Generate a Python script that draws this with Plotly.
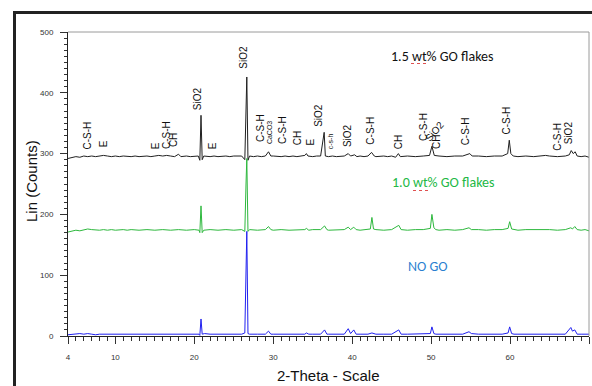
import plotly.graph_objects as go

# ---- data ----
theta_15 = [4.0, 4.5, 5.0, 5.5, 6.0, 6.5, 7.0, 7.5, 8.0, 8.5, 9.0, 9.5, 10.0, 10.5, 11.0, 11.5, 12.0, 12.5, 13.0, 14.0,
            14.5, 15.0, 15.5, 16.0, 16.5, 17.0, 17.5, 18.0, 18.3, 19.0, 19.5, 20.5, 20.7, 20.85, 21.0, 21.2, 22.0, 22.5,
            23.0, 24.0, 24.5, 25.0, 26.0, 26.4, 26.55, 26.65, 26.8, 27.0, 27.5, 28.0, 28.5, 29.0, 29.4, 29.7, 30.0,
            31.0, 31.5, 32.0, 32.5, 33.0, 34.0, 34.2, 34.4, 35.0, 35.5, 36.0, 36.45, 36.6, 37.0, 37.5, 38.0, 39.0,
            39.5, 39.8, 40.3, 40.6, 41.0, 41.5, 42.0, 42.45, 42.8, 43.0, 44.0, 44.5, 45.0, 45.5, 45.85, 46.1, 47.0,
            48.0, 49.0, 49.8, 50.1, 50.4, 51.0, 52.0, 53.0, 54.0, 54.9, 55.2, 56.0, 57.0, 58.0, 59.0, 59.7, 59.9, 60.1,
            60.4, 61.0, 62.0, 63.0, 64.0, 64.5, 65.0, 66.0, 67.0, 67.5, 67.75, 68.0, 68.25, 68.5, 69.0, 69.5, 70.0]
counts_15 = [292, 294, 295, 294, 296, 295, 296, 295, 296, 297, 296, 295, 296, 295, 296, 295, 295, 296, 295, 296,
             295, 296, 297, 296, 297, 296, 295, 299, 295, 296, 295, 296, 289, 363, 290, 296, 295, 296,
             295, 296, 295, 296, 296, 290, 360, 426, 289, 296, 295, 296, 295, 296, 303, 296, 296,
             295, 296, 295, 296, 295, 297, 300, 296, 295, 296, 296, 335, 296, 295, 296, 295, 296,
             300, 296, 298, 295, 296, 295, 296, 302, 296, 295, 296, 295, 296, 294, 300, 295, 296,
             295, 296, 297, 312, 297, 296, 295, 296, 296, 300, 296, 296, 295, 296, 296, 300, 322, 300,
             296, 295, 296, 295, 296, 297, 296, 295, 296, 298, 305, 300, 303, 296, 295, 296, 294]

theta_10 = [4.0, 4.5, 5.0, 5.5, 6.0, 6.5, 7.0, 7.5, 8.0, 8.5, 9.0, 9.5, 10.0, 11.0, 11.5, 12.0, 13.0, 14.0, 15.0, 16.0,
            17.0, 18.0, 19.0, 20.0, 20.6, 20.7, 20.85, 21.0, 21.2, 22.0, 23.0, 24.0, 25.0, 26.0, 26.4, 26.55, 26.65,
            26.8, 27.0, 28.0, 29.0, 29.4, 29.7, 30.0, 31.0, 32.0, 33.0, 34.0, 34.2, 34.5, 35.0, 36.0, 36.5, 36.8,
            37.0, 38.0, 39.0, 39.5, 39.8, 40.2, 40.5, 41.0, 42.0, 42.3, 42.5, 42.7, 43.0, 44.0, 45.0, 45.9, 46.2,
            47.0, 48.0, 49.0, 49.9, 50.1, 50.35, 50.6, 51.0, 52.0, 53.0, 54.0, 54.8, 55.1, 56.0, 57.0, 58.0, 59.0,
            59.75, 59.95, 60.2, 60.5, 61.0, 62.0, 63.0, 64.0, 64.5, 65.0, 66.0, 67.0, 67.7, 67.9, 68.2, 68.5, 69.0,
            69.5, 70.0]
counts_10 = [171, 173, 174, 173, 175, 176, 175, 174, 174, 175, 174, 175, 174, 175, 174, 175, 174, 175, 174, 175,
             174, 175, 174, 175, 174, 170, 214, 170, 174, 175, 174, 175, 174, 175, 172, 250, 292,
             172, 175, 174, 175, 180, 175, 174, 175, 174, 175, 175, 177, 174, 175, 175, 181, 175,
             174, 175, 175, 179, 175, 179, 175, 174, 175, 176, 195, 176, 175, 174, 175, 182, 175,
             174, 175, 175, 177, 200, 178, 175, 174, 175, 174, 175, 178, 175, 175, 174, 175, 175,
             177, 188, 176, 175, 174, 175, 175, 175, 176, 175, 174, 175, 178, 176, 180, 175, 174,
             175, 173]

theta_0 = [4.0, 4.5, 5.0, 5.5, 6.0, 6.5, 7.0, 7.5, 8.0, 9.0, 10.0, 11.0, 12.0, 13.0, 14.0, 15.0, 16.0, 17.0, 18.0,
           18.5, 19.0, 20.0, 20.6, 20.7, 20.85, 21.0, 21.3, 22.0, 23.0, 24.0, 25.0, 26.0, 26.4, 26.55, 26.65, 26.8,
           27.0, 28.0, 29.0, 29.4, 29.7, 30.0, 31.0, 32.0, 33.0, 34.0, 34.2, 34.5, 35.0, 36.0, 36.5, 36.8, 37.0,
           38.0, 39.0, 39.5, 39.8, 40.2, 40.5, 41.0, 42.0, 42.5, 42.8, 43.0, 44.0, 45.0, 45.9, 46.2, 47.0, 48.0,
           49.0, 49.9, 50.1, 50.35, 50.6, 51.0, 52.0, 53.0, 54.0, 54.8, 55.1, 56.0, 57.0, 58.0, 59.0, 59.75, 59.95,
           60.2, 60.5, 61.0, 62.0, 63.0, 63.9, 64.5, 65.0, 66.0, 67.0, 67.7, 67.9, 68.2, 68.5, 69.0, 69.5, 70.0]
counts_0 = [2, 3, 3, 4, 3, 4, 3, 2, 3, 3, 2, 3, 3, 2, 3, 3, 2, 3, 3,
            2, 3, 3, 3, 1, 28, 3, 4, 3, 3, 2, 3, 3, 5, 120, 172, 4,
            3, 3, 3, 8, 3, 3, 3, 3, 3, 3, 5, 3, 3, 3, 10, 3, 3,
            3, 3, 12, 4, 10, 3, 3, 3, 5, 3, 3, 3, 3, 10, 3, 3, 3,
            3, 4, 15, 4, 3, 3, 3, 3, 3, 7, 4, 3, 3, 3, 3, 5, 15,
            4, 3, 3, 3, 3, 4, 3, 3, 3, 3, 14, 8, 10, 3, 3, 3, 3]

peak_labels = ["C-S-H", "E", "E", "C-S-H", "CH", "SiO2", "E", "SiO2", "C-S-H", "CaCO3", "C-S-H", "CH", "E",
               "SiO2", "c-s-h", "SiO2", "C-S-H", "CH", "C-S-H", "CH", "C-S-H", "C-S-H", "C-S-H", "SiO2"]
peak_label_theta = [6.46, 8.6, 15.1, 16.4, 17.4, 20.4, 22.3, 26.2, 28.4, 29.5, 31.2, 33.1, 34.6,
                    35.8, 37.2, 39.5, 42.3, 45.8, 49.0, 50.6, 54.4, 59.6, 66.0, 67.4]
peak_label_counts = [304, 307, 304, 304, 307, 368, 304, 436, 315, 312, 312, 310, 310,
                     340, 304, 307, 312, 304, 318, 304, 310, 328, 302, 312]
tilted_label = "SiO2"
tilted_label_theta = 50.4
tilted_label_counts = 337

series_names = ["1.5 wt% GO flakes", "1.0 wt% GO flakes", "NO GO"]
series_name_theta = [51.4, 51.6, 49.6]
series_name_counts = [460, 252, 114]

x_tickvals = [4, 10, 20, 30, 40, 50, 60, 70]
y_tickvals = [0, 100, 200, 300, 400, 500]

# ---- layout geometry (pixels) ----
W, H = 592, 386
L, R, T, B = 68, 589, 32, 336


def px(x):
    return (x - L) / (R - L)


def py(y):
    return (B - y) / (B - T)


fig = go.Figure()
fig.add_trace(go.Scatter(x=theta_15, y=counts_15, mode="lines", line=dict(color="#202020", width=1), name=series_names[0]))
fig.add_trace(go.Scatter(x=theta_10, y=counts_10, mode="lines", line=dict(color="#2db83d", width=1), name=series_names[1]))
fig.add_trace(go.Scatter(x=theta_0, y=counts_0, mode="lines", line=dict(color="#2020f0", width=1), name=series_names[2]))

annotations = []
for lab, tx, cy in zip(peak_labels, peak_label_theta, peak_label_counts):
    small = lab in ("CaCO3", "c-s-h")
    annotations.append(dict(x=tx, y=cy, xref="x", yref="y", text=lab, showarrow=False, textangle=-90,
                            xanchor="center", yanchor="bottom",
                            font=dict(family="Arial, Liberation Sans", size=7 if small else 10, color="#111")))
annotations.append(dict(x=tilted_label_theta, y=tilted_label_counts, xref="x", yref="y", text=tilted_label,
                        showarrow=False, textangle=-50, xanchor="center", yanchor="middle",
                        font=dict(family="Arial, Liberation Sans", size=10, color="#111")))
name_colors = ["#111111", "#22b845", "#2a7fd0"]
for nm, tx, cy, c in zip(series_names, series_name_theta, series_name_counts, name_colors):
    annotations.append(dict(x=tx, y=cy, xref="x", yref="y", text=nm, showarrow=False,
                            xanchor="center", yanchor="middle",
                            font=dict(family="Carlito, Calibri, Lato, sans-serif", size=14, color=c)))
# axis titles
annotations.append(dict(x=px(31), y=py(181), xref="paper", yref="paper", text="Lin (Counts)", showarrow=False,
                        textangle=-90, xanchor="center", yanchor="middle",
                        font=dict(family="Arial, Liberation Sans", size=15, color="#111")))
annotations.append(dict(x=px(328), y=py(375), xref="paper", yref="paper", text="2-Theta - Scale", showarrow=False,
                        xanchor="center", yanchor="middle",
                        font=dict(family="Arial, Liberation Sans", size=15, color="#111")))

shapes = [
    # outer dark frame (left and top)
    dict(type="line", xref="paper", yref="paper", x0=px(14.5), x1=px(14.5), y0=py(11), y1=py(400),
         line=dict(color="#222", width=3)),
    dict(type="line", xref="paper", yref="paper", x0=px(13), x1=px(600), y0=py(12.5), y1=py(12.5),
         line=dict(color="#222", width=3)),
    # plot frame top/right gray
    dict(type="line", xref="paper", yref="paper", x0=0, x1=1, y0=1, y1=1, line=dict(color="#9a9a9a", width=1)),
    dict(type="line", xref="paper", yref="paper", x0=1, x1=1, y0=0, y1=1, line=dict(color="#9a9a9a", width=1)),
    # spell-check underlines under "wt"
    dict(type="line", xref="paper", yref="paper", x0=px(411), x1=px(426), y0=py(63.5), y1=py(63.5),
         line=dict(color="#e05050", width=1, dash="dot")),
    dict(type="line", xref="paper", yref="paper", x0=px(413), x1=px(429), y0=py(190.5), y1=py(190.5),
         line=dict(color="#e05050", width=1, dash="dot")),
]

tickfont = dict(family="Arial, Liberation Sans", size=8, color="#333")
fig.update_layout(
    width=W, height=H,
    margin=dict(l=L, r=W - R, t=T, b=H - B, autoexpand=False),
    paper_bgcolor="white", plot_bgcolor="white",
    showlegend=False,
    annotations=annotations,
    shapes=shapes,
    xaxis=dict(range=[4, 70], tickvals=x_tickvals, ticks="outside", ticklen=7, tickcolor="#333",
               showline=True, linecolor="#222", linewidth=1, showgrid=False, zeroline=False,
               tickfont=tickfont, ticklabelstandoff=6,
               minor=dict(dtick=1, tick0=0, ticks="outside", ticklen=4, tickcolor="#333", showgrid=False)),
    yaxis=dict(range=[0, 500], tickvals=y_tickvals, ticks="outside", ticklen=7, tickcolor="#333",
               showline=True, linecolor="#222", linewidth=1, showgrid=False, zeroline=False,
               tickfont=tickfont, ticklabelstandoff=5,
               minor=dict(dtick=10, tick0=0, ticks="outside", ticklen=3, tickcolor="#333", showgrid=False)),
)
fig.write_html("out.html", config={"displayModeBar": False},
               post_script="document.body.style.margin='0';")
